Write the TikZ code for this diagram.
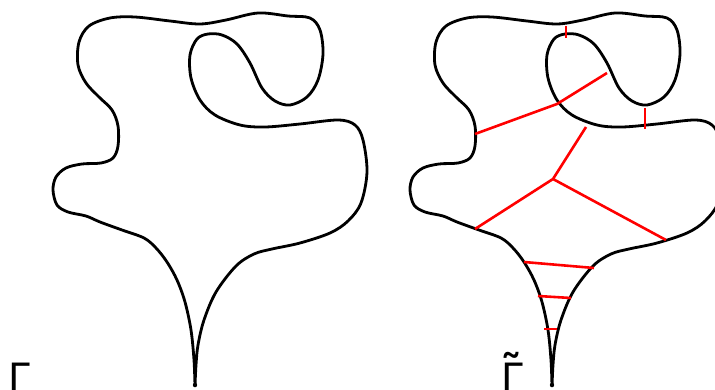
\documentclass[tikz,border=0pt]{standalone}
\usepackage{fontspec}
\setmainfont{DejaVu Sans}
\begin{document}
\begin{tikzpicture}[x=1pt,y=-1pt,
  curve/.style={line width=2.8pt,black,line cap=round,line join=round},
  redline/.style={line width=2.6pt,red,line cap=butt,line join=round},
  lbl/.style={inner sep=0pt,anchor=base west,font=\fontsize{39}{39}\selectfont},
  tld/.style={inner sep=0pt,anchor=base,font=\fontsize{44}{44}\selectfont\bfseries}]
\useasboundingbox (0,0) rectangle (715,390);
\clip (0,0) rectangle (715,390);
\fill[white] (0,0) rectangle (715,390);
\def\shape{plot[smooth,tension=0.55] coordinates {
(195,386) (194,360) (191,330) (185,302) (177,280) (167,262) (156,248) (144,238)
(122,230) (100,222) (86,216) (68,212) (57,205) (53,190) (56,177) (66,168) (82,164)
(101,163) (113,158) (118,146) (118,126) (112,110) (99,97) (86,83) (78,65) (79,42)
(89,26) (110,18) (135,17) (170,21) (200,24) (226,20) (258,13) (288,16) (310,18)
(320,30) (323,54) (318,80) (307,97) (290,105) (275,101) (262,88) (250,63)
(237,44) (222,35) (208,34) (197,39) (190,55) (191,78) (200,100) (215,115) (240,125)
(265,127) (300,124) (338,120) (355,125) (363,140) (367,172) (361,203) (348,221)
(330,233) (300,243) (272,249) (254,254) (236,266) (216,292) (204,320) (198,345) (196,365) (195,386)}}
% left figure
\draw[curve] \shape;
\fill (195,385) circle (2.2pt);
\node[lbl] (g1) at (8,391) {Γ};
% right figure
\begin{scope}[xshift=357pt]
\draw[curve] \shape;
\fill (195,385) circle (2.2pt);
\end{scope}
\node[lbl] (g2) at (501,391) {Γ};
\node[tld] (t2) at (511,386) {˜};
% red lines
\coordinate (a1) at (566,26); \coordinate (a2) at (566,38);
\coordinate (b1) at (607,73); \coordinate (b2) at (557,104); \coordinate (b3) at (475,134);
\coordinate (c1) at (645,108); \coordinate (c2) at (645,129);
\coordinate (j) at (553,179); \coordinate (d1) at (586,127);
\coordinate (d2) at (475,229); \coordinate (d3) at (666,240);
\coordinate (e1) at (524,262); \coordinate (e2) at (594,268);
\coordinate (f1) at (538,296); \coordinate (f2) at (571,298);
\coordinate (h1) at (544,329); \coordinate (h2) at (557,329);
\draw[redline] (a1) -- (a2);
\draw[redline] (b1) -- (b2) -- (b3);
\draw[redline] (c1) -- (c2);
\draw[redline] (d1) -- (j) -- (d2);
\draw[redline] (j) -- (d3);
\draw[redline] (e1) -- (e2);
\draw[redline] (f1) -- (f2);
\draw[redline] (h1) -- (h2);
\end{tikzpicture}
\end{document}
